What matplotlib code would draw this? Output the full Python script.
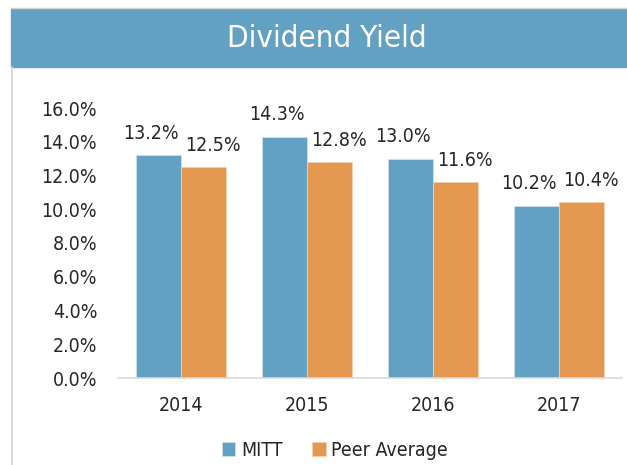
import matplotlib
matplotlib.use("Agg")
import matplotlib.pyplot as plt
from matplotlib import font_manager
from matplotlib.patches import Rectangle
from matplotlib.lines import Line2D
import numpy as np

YEARS = ["2014", "2015", "2016", "2017"]
MITT = [13.2, 14.3, 13.0, 10.2]
PEER = [12.5, 12.8, 11.6, 10.4]
SERIES = ["MITT", "Peer Average"]

BLUE = "#62a1c3"
ORANGE = "#e4974f"
INK = "#262626"

# the original uses a narrow grotesque; take a condensed face if one is installed
_fp = font_manager.FontProperties(family="DejaVu Sans", stretch="condensed")
_path = font_manager.findfont(_fp, fallback_to_default=False)
if "Condensed" in _path:
    plt.rcParams["font.family"] = ["DejaVu Sans"]
    plt.rcParams["font.stretch"] = "condensed"
    SZ, TSZ = 14, 22.5
else:
    plt.rcParams["font.family"] = ["Liberation Sans", "DejaVu Sans"]
    SZ, TSZ = 13.5, 22

fig = plt.figure(figsize=(6.27, 4.65), dpi=100)
W, H = 627, 465

# title band + frame lines
fig.patches.append(Rectangle((11 / W, 1 - 67 / H), 1 - 11 / W, 58 / H,
                             transform=fig.transFigure, color=BLUE, zorder=0))
fig.lines.append(Line2D([11 / W, 1], [1 - 8.5 / H, 1 - 8.5 / H], transform=fig.transFigure,
                        color="#d9d3cf", lw=1))
fig.lines.append(Line2D([12 / W, 12 / W], [0, 1 - 67 / H], transform=fig.transFigure,
                        color="#d9cfc6", lw=1.2))
fig.text(327 / W, 1 - 38 / H, "Dividend Yield", color="white", fontsize=TSZ,
         ha="center", va="center")

ax = fig.add_axes([118 / W, 87 / H, 504 / W, 270 / H])
x = np.arange(len(YEARS))
bw = 0.36
b1 = ax.bar(x - bw / 2, MITT, bw, color=BLUE, edgecolor="#cfe0ea", linewidth=0.6, label=SERIES[0])
b2 = ax.bar(x + bw / 2, PEER, bw, color=ORANGE, edgecolor="#f3d0b0", linewidth=0.6, label=SERIES[1])
# labels sit a little apart, as in the original, so neighbours do not collide
for bars, vals, dx in ((b1, MITT, -5), (b2, PEER, 7)):
    for r, v in zip(bars, vals):
        ax.annotate(f"{v:.1f}%", (r.get_x() + r.get_width() / 2, v), xytext=(dx, 9),
                    textcoords="offset points", ha="center", va="bottom",
                    fontsize=SZ, color=INK)

ax.set_xlim(-0.5, len(YEARS) - 0.5)
ax.set_ylim(0, 16)
ax.set_yticks(np.arange(0, 17, 2))
ax.set_yticklabels([f"{t:.1f}%" for t in np.arange(0, 17, 2)])
ax.set_xticks(x)
ax.set_xticklabels(YEARS)
ax.tick_params(axis="both", length=0, labelsize=SZ, colors=INK)
ax.tick_params(axis="y", pad=15)
ax.tick_params(axis="x", pad=13)
for s in ("top", "right", "left"):
    ax.spines[s].set_visible(False)
ax.spines["bottom"].set_color("#d9d9d9")
ax.spines["bottom"].set_linewidth(1.2)

fig.legend(handles=[b1, b2], labels=SERIES, loc="center", bbox_to_anchor=(335 / W, 1 - 450 / H),
           ncol=2, frameon=False, fontsize=SZ, handlelength=0.7, handleheight=0.7,
           handletextpad=0.3, columnspacing=1.5, labelcolor=INK)

fig.savefig("out.png", dpi=100)
